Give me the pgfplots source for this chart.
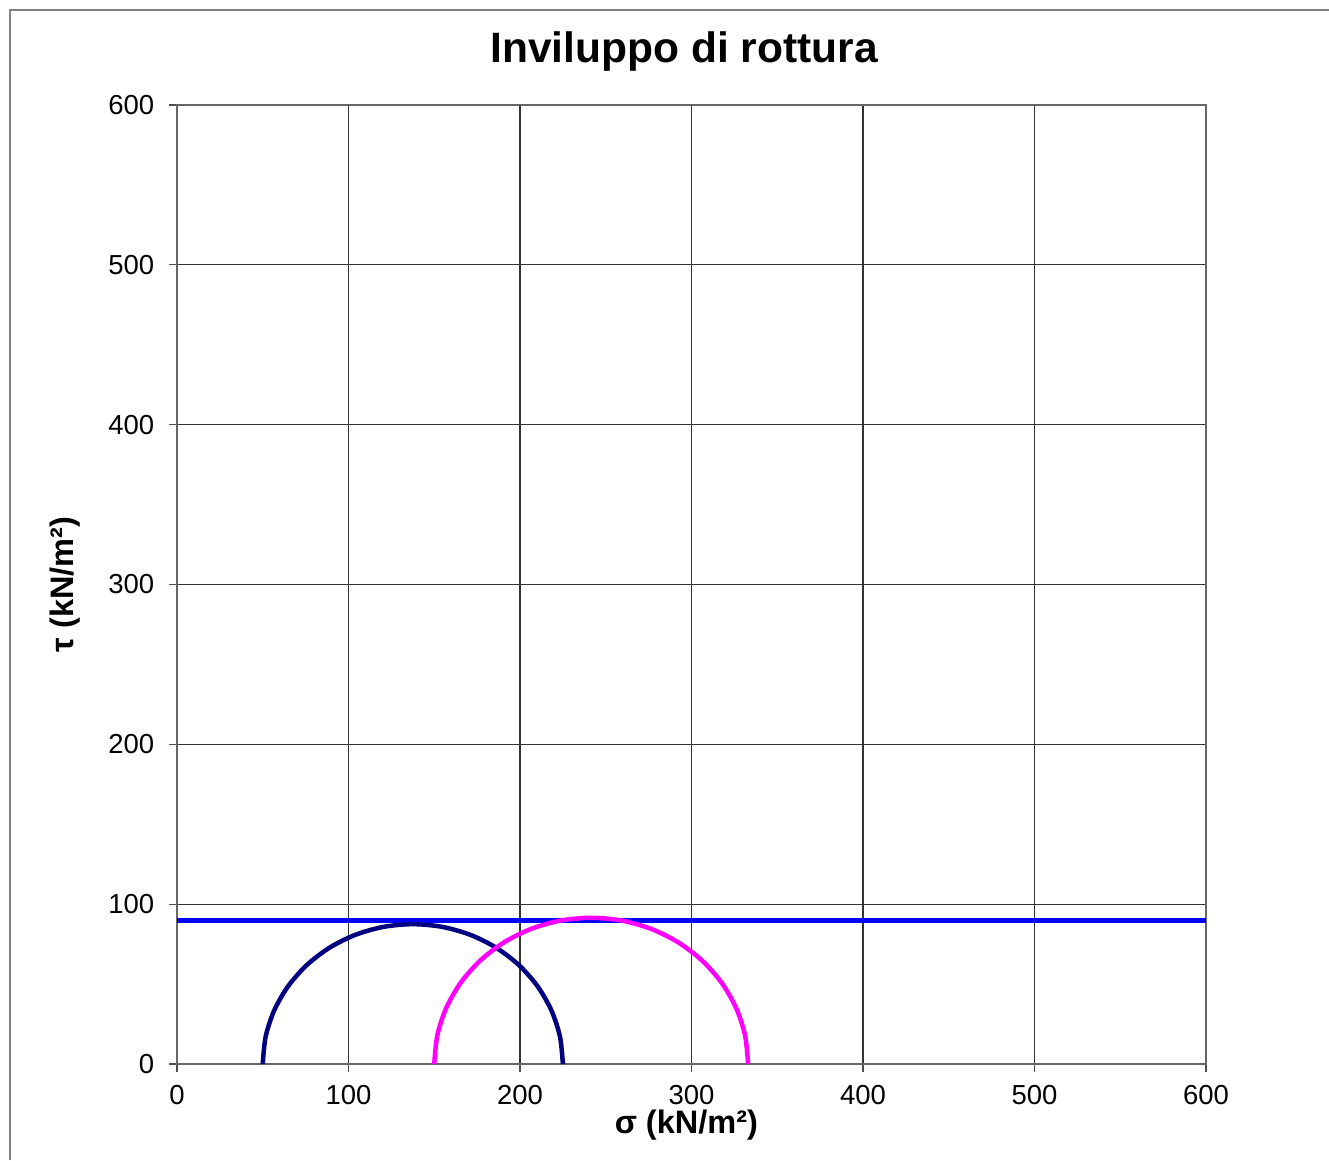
\documentclass[border=0pt]{standalone}
\usepackage{fontspec}
\setmainfont{Liberation Sans}
\usepackage{pgfplots}
\pgfplotsset{compat=1.18}
\begin{document}
\begin{tikzpicture}[x=1pt,y=1pt]
\useasboundingbox (0,0) rectangle (531.6,464);
\draw[gray, line width=0.6pt] (4,0) -- (4,460) -- (531.6,460);
\node[font=\fontsize{17}{20}\selectfont\bfseries] at (273.6,443.5) {Inviluppo di rottura};
\begin{axis}[
  at={(70.8pt,38.4pt)}, anchor=south west,
  scale only axis, width=411.6pt, height=383.6pt,
  xmin=0, xmax=600, ymin=0, ymax=600,
  xtick={0,100,...,600}, ytick={0,100,...,600},
  grid=major,
  major grid style={black!80, line width=0.5pt},
  axis line style={black!60, line width=0.6pt},
  tick style={black!70, line width=0.5pt},
  tick align=outside, major tick length=3.2pt,
  xtick pos=bottom, ytick pos=left,
  /pgf/number format/assume math mode=true,
  ticklabel style={font=\fontsize{11}{13}\selectfont},
  xticklabel style={yshift=-1.8pt},
  yticklabel style={xshift=-2.4pt},
  xlabel={\bfseries σ (kN/m²)},
  ylabel={\bfseries τ (kN/m²)},
  label style={font=\fontsize{13}{15}\selectfont},
  xlabel style={at={(axis description cs:0.495,0)}, anchor=center, yshift=-24.6pt},
  ylabel style={at={(axis description cs:-0.109,0.5)}, anchor=center},
  clip=false,
]
\addplot[blue, line width=2pt] coordinates {(0,89.7) (600,89.7)};
\addplot[color={rgb,255:red,0;green,0;blue,128}, line width=1.8pt, smooth, tension=0.5] coordinates {
(225.00,0) (223.32,17.07) (218.34,33.48) (210.25,48.61) (199.37,61.87) (186.11,72.75) (170.98,80.84) (154.57,85.82) (137.5,87.5) (120.43,85.82) (104.02,80.84) (88.89,72.75) (75.63,61.87) (64.75,48.61) (56.66,33.48) (51.68,17.07) (50.00,0)};
\addplot[color={rgb,255:red,255;green,0;blue,255}, line width=1.8pt, smooth, tension=0.5] coordinates {
(333.00,0) (331.24,17.85) (326.03,35.02) (317.58,50.83) (306.20,64.70) (292.33,76.08) (276.52,84.53) (259.35,89.74) (241.5,91.5) (223.65,89.74) (206.48,84.53) (190.67,76.08) (176.80,64.70) (165.42,50.83) (156.97,35.02) (151.76,17.85) (150.00,0)};
\end{axis}
\end{tikzpicture}
\end{document}
